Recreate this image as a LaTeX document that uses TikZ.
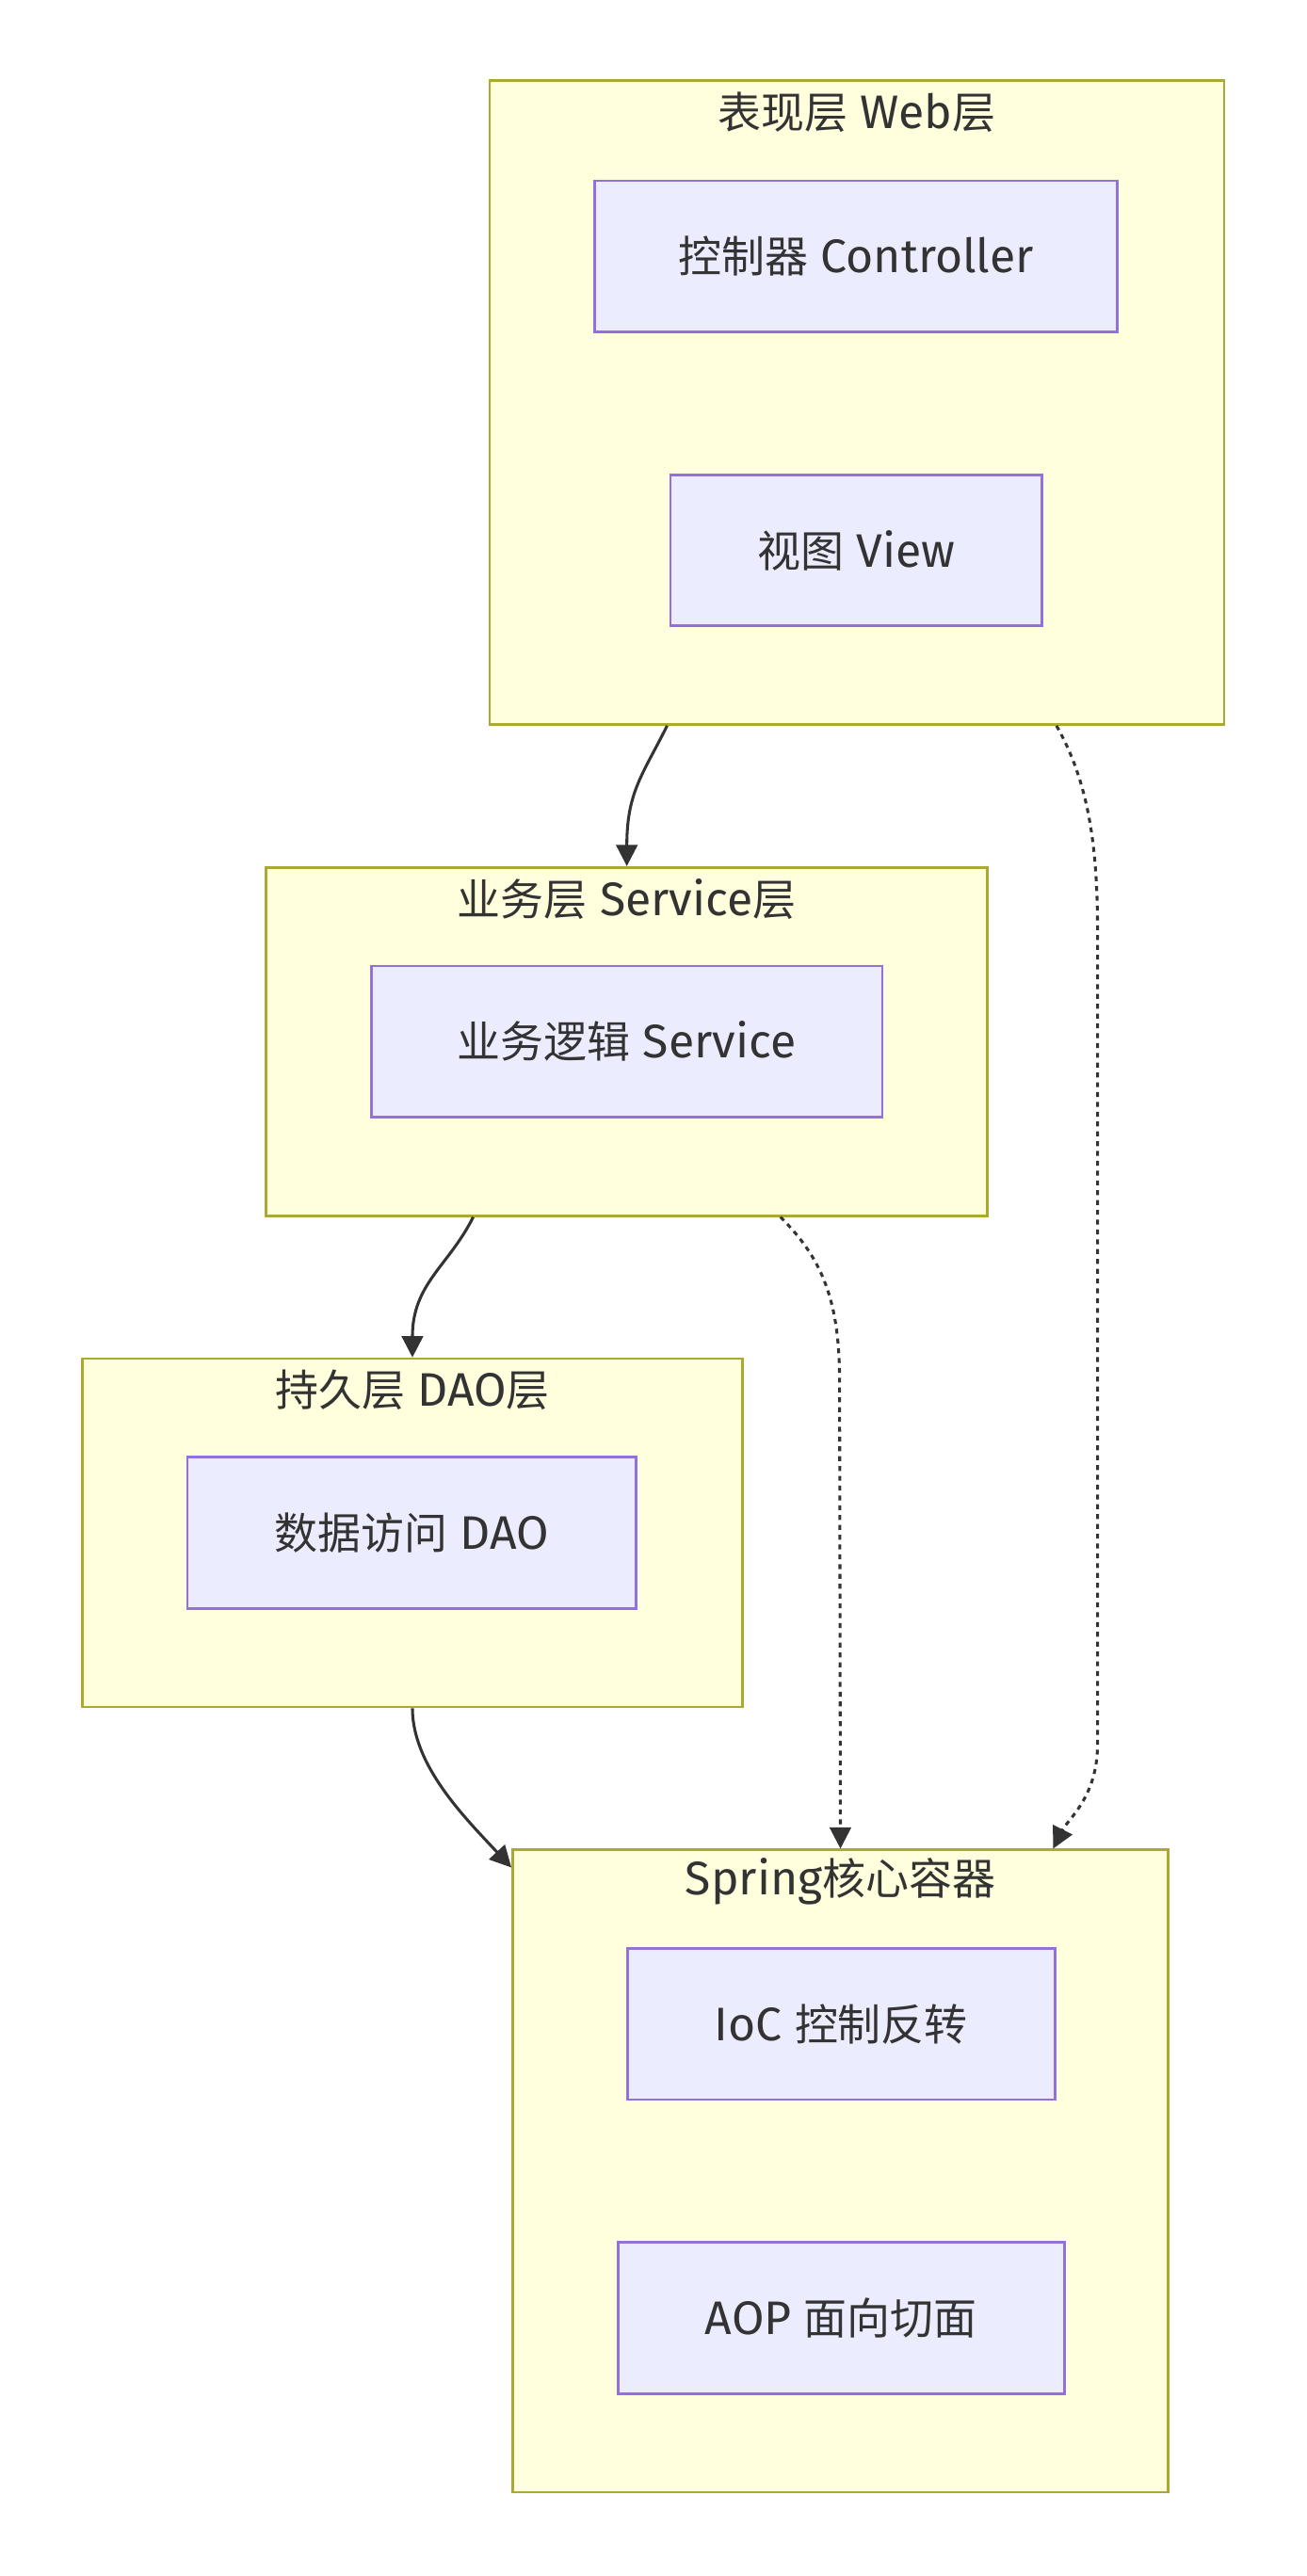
\documentclass[tikz,border=0pt]{standalone}
\usepackage{fontspec}
\setmainfont{Fira Sans}
\newfontfamily\cjk{Noto Sans CJK SC}[Scale=0.92]
\usetikzlibrary{arrows.meta}
\definecolor{clusterfill}{HTML}{FFFFDE}
\definecolor{clusterline}{HTML}{AAAA33}
\definecolor{nodefill}{HTML}{ECECFF}
\definecolor{nodeline}{HTML}{9370DB}
\definecolor{textgray}{HTML}{333333}
\definecolor{edgegray}{HTML}{333333}
\begin{document}
\begin{tikzpicture}[
        x=0.02cm,
        y=-0.02cm,
        font=\fontsize{16.3}{19}\selectfont,
        text=textgray,
        layer/.style={
            rectangle,
            draw=clusterline,
            fill=clusterfill,
            line width=0.9pt,
            inner sep=0pt
        },
        comp/.style={
            rectangle,
            draw=nodeline,
            fill=nodefill,
            line width=0.9pt,
            minimum height=1.84cm,
            inner sep=0pt
        },
        title/.style={
            anchor=center,
            inner sep=0pt
        },
        flow/.style={
            -{Triangle[length=0.26cm,width=0.26cm]},
            line width=1pt,
            draw=edgegray
        },
        dep/.style={
            flow,
            dash pattern=on 1.7pt off 1.7pt
        }
    ]

        \path[use as bounding box, fill=white] (0,0) rectangle (795,1568);

        % layers
        \node[layer, minimum width=8.94cm, minimum height=7.84cm] (web) at (521.5,245) {};
        \node[layer, minimum width=8.78cm, minimum height=4.24cm] (svc) at (381.5,634) {};
        \node[layer, minimum width=8.04cm, minimum height=4.24cm] (dao) at (251,933) {};
        \node[layer, minimum width=7.98cm, minimum height=7.82cm] (spring) at (511.5,1321.5) {};

        \node[title] (webtitle) at ([yshift=-0.4cm]web.north) {{\cjk 表现层} Web{\cjk 层}};
        \node[title] (svctitle) at ([yshift=-0.4cm]svc.north) {{\cjk 业务层} Service{\cjk 层}};
        \node[title] (daotitle) at ([yshift=-0.4cm]dao.north) {{\cjk 持久层} DAO{\cjk 层}};
        \node[title] (springtitle) at ([yshift=-0.4cm]spring.north) {Spring{\cjk 核心容器}};

        % components
        \node[comp, minimum width=6.36cm] (ctrl) at (521,156) {{\cjk 控制器} Controller};
        \node[comp, minimum width=4.52cm] (view) at (521,335) {{\cjk 视图} View};
        \node[comp, minimum width=6.22cm] (logic) at (381.5,634) {{\cjk 业务逻辑} Service};
        \node[comp, minimum width=5.46cm] (dataacc) at (250.5,933) {{\cjk 数据访问} DAO};
        \node[comp, minimum width=5.2cm] (ioc) at (512,1232) {IoC {\cjk 控制反转}};
        \node[comp, minimum width=5.44cm] (aop) at (512,1411) {AOP {\cjk 面向切面}};

        % edge ends
        \coordinate (webL) at ([xshift=-2.31cm]web.south);
        \coordinate (webR) at ([xshift=2.43cm]web.south);
        \coordinate (svcL) at ([xshift=-1.87cm]svc.south);
        \coordinate (svcR) at ([xshift=1.87cm]svc.south);
        \coordinate (springNE) at ([xshift=2.59cm]spring.north);
        \coordinate (springNW) at ([yshift=-0.23cm]spring.north west);

        \draw[flow] (webL) .. controls +(-15,30) and +(0,-45) .. (svc.north);
        \draw[flow] (svcL) .. controls +(-15,30) and +(0,-45) .. (dao.north);
        \draw[flow] (dao.south) .. controls +(0,35) and +(-28,-30) .. (springNW);
        \draw[dep] (webR) .. controls +(20,35) and +(0,-50) .. ++(25,125) -- ++(0,495) .. controls +(0,32) and +(9,-18) .. (springNE);
        \draw[dep] (svcR) .. controls +(25,25) and +(0,-50) .. ++(36,100) -- (spring.north);

    \end{tikzpicture}
\end{document}
